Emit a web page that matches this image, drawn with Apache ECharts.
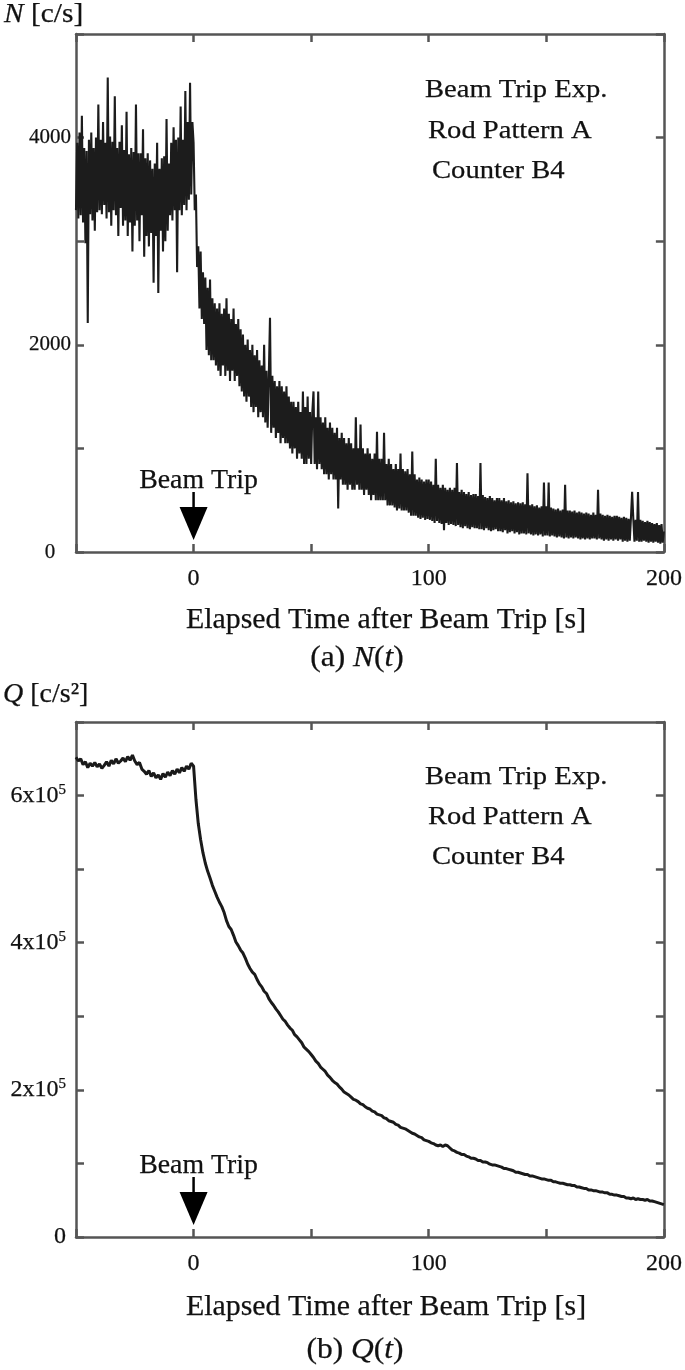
<!DOCTYPE html>
<html><head><meta charset="utf-8">
<script src="https://cdn.jsdelivr.net/npm/echarts@6/dist/echarts.min.js"></script>
<style>html,body{margin:0;padding:0;background:#fff}#c{width:685px;height:1370px}</style>
</head><body><div id="c"></div><script>
// ---- data ----
const timeMin = -50, timeMax = 200;
// N(t) [c/s], sampled every 0.5 s from t = -50 s
const nStart = -50, nStep = 0.5;
const nValues = [
3300,3950,3220,4050,3250,4210,3180,3900,2980,3870,2210,3980,3260,4050,3200,3900,3100,4000,3280,4320,
3300,3980,3260,4150,3350,3950,3220,4580,3280,4010,3150,3960,3300,4400,3250,3900,3050,3960,3320,4120,
3150,3880,3200,4250,3050,3840,3180,3900,2900,3860,3150,4320,3200,3850,3000,3850,3250,4080,2850,3800,
3050,3850,2950,3780,3080,3700,2600,3750,3050,3950,2500,3700,3100,3800,2900,3820,3000,4180,3100,3750,
3250,3950,3200,4100,3300,3980,2700,4000,3300,4300,3250,3980,3350,4450,3300,4150,3400,4530,3450,4150,
3950,3300,3450,2750,2950,2350,2900,2250,2700,2200,2650,1950,2550,1900,2630,1850,2450,1850,2400,1800,
2350,1750,2400,1700,2300,1800,2350,1700,2450,1750,2300,1650,2250,1750,2350,1650,2200,1700,2250,1600,
2150,1550,2100,1500,2000,1450,2050,1500,1950,1400,2000,1350,1900,1400,1950,1300,1850,1350,1800,1300,
2000,1250,1750,1200,1700,2260,1150,1700,1200,1650,1100,1600,1150,1650,1050,1600,1100,1550,1050,1600,
1050,1500,1000,1450,950,1450,1000,1400,900,1450,950,1350,900,1550,850,1400,850,1500,900,1350,
850,1350,1550,850,1300,800,1550,850,1300,800,1250,750,1300,750,1200,700,1250,750,1200,700,
1150,700,1200,420,1100,700,1150,650,1100,650,1050,600,1100,650,1050,600,1000,600,1300,650,
1000,600,1230,600,1000,550,950,600,1000,550,950,500,900,550,950,500,1160,500,900,500,
900,500,1150,500,850,450,900,450,850,450,800,430,850,400,800,420,950,400,800,400,
780,400,800,380,750,350,970,350,750,350,700,330,720,320,700,330,680,310,700,320,
700,310,680,300,650,280,900,300,650,280,620,270,650,210,620,280,600,260,620,270,
600,260,620,250,860,260,580,240,600,230,580,250,560,230,580,220,550,240,560,230,
560,230,540,220,860,220,550,210,530,230,520,210,540,200,520,210,500,220,520,200,
520,200,500,190,520,210,490,180,500,190,480,200,490,180,470,190,480,170,470,180,
480,180,460,170,760,180,450,170,460,160,440,170,450,160,430,170,440,150,670,160,
440,160,670,150,430,160,420,150,410,140,420,150,400,140,410,130,650,140,400,130,
400,140,390,130,400,140,380,130,390,120,380,130,370,120,380,130,370,120,360,130,
380,130,360,120,600,130,370,120,360,110,350,120,360,110,350,120,340,110,350,120,
350,110,340,120,330,100,340,110,330,100,320,110,330,580,320,100,310,110,580,100,
310,100,300,110,290,100,300,90,290,100,280,90,270,100,280,90,260,80,270,90,
200
];
// Q(t) in units of 10^5 c/s^2, sampled every 1 s from t = -50 s
const qStart = -50, qStep = 1;
const qValues = [
6.52,6.47,6.50,6.42,6.46,6.38,6.44,6.40,6.45,6.39,
6.43,6.37,6.41,6.46,6.40,6.48,6.43,6.50,6.44,6.47,
6.51,6.46,6.53,6.48,6.55,6.47,6.42,6.45,6.36,6.33,
6.29,6.34,6.26,6.31,6.24,6.28,6.22,6.30,6.25,6.32,
6.27,6.34,6.29,6.36,6.31,6.38,6.33,6.40,6.36,6.44,
6.40,5.95,5.62,5.40,5.22,5.08,4.97,4.88,4.78,4.70,
4.62,4.55,4.49,4.41,4.30,4.22,4.18,4.10,4.01,3.96,
3.90,3.86,3.79,3.71,3.65,3.60,3.57,3.50,3.44,3.40,
3.34,3.31,3.24,3.19,3.15,3.10,3.06,3.01,2.96,2.93,
2.88,2.84,2.81,2.75,2.72,2.68,2.64,2.58,2.55,2.52,
2.48,2.44,2.39,2.36,2.31,2.28,2.25,2.20,2.17,2.13,
2.10,2.08,2.04,2.01,1.97,1.95,1.93,1.90,1.87,1.86,
1.84,1.81,1.80,1.77,1.75,1.74,1.71,1.70,1.67,1.66,
1.65,1.62,1.61,1.58,1.57,1.56,1.53,1.52,1.49,1.48,
1.47,1.45,1.43,1.41,1.40,1.38,1.36,1.35,1.32,1.31,
1.30,1.28,1.27,1.25,1.24,1.25,1.23,1.25,1.24,1.21,
1.18,1.17,1.15,1.14,1.12,1.12,1.10,1.09,1.07,1.07,
1.06,1.04,1.04,1.02,1.02,1.01,0.99,0.98,0.98,0.97,
0.96,0.95,0.93,0.93,0.92,0.91,0.90,0.88,0.88,0.87,
0.86,0.85,0.85,0.83,0.83,0.82,0.81,0.80,0.79,0.79,
0.78,0.77,0.77,0.75,0.75,0.74,0.73,0.73,0.72,0.71,
0.71,0.70,0.70,0.68,0.68,0.67,0.66,0.66,0.64,0.64,
0.63,0.63,0.62,0.61,0.61,0.60,0.60,0.58,0.58,0.57,
0.57,0.56,0.55,0.55,0.53,0.53,0.52,0.53,0.51,0.52,
0.51,0.51,0.50,0.51,0.49,0.49,0.48,0.47,0.46,0.45,
0.44
];
const xLabelTicks = [0, 100, 200];
const nLabelTicks = [0, 2000, 4000];
const qLabelTicks = [0, 2, 4, 6];
const texts = {
  nAxis: '{i|N} [c/s]',
  qAxis: '{i|Q} [c/s²]',
  xName: 'Elapsed Time after Beam Trip [s]',
  capA: '(a) {i|N}({i|t})',
  capB: '(b) {i|Q}({i|t})',
  info: ['Beam Trip Exp.', 'Rod Pattern A', 'Counter B4'],
  trip: 'Beam Trip'
};

// ---- chart ----
const FONT = '"Liberation Serif", "Times New Roman", serif';
const AX = '#555', TXT = '#111';
const chart = echarts.init(document.getElementById('c'), null, {renderer: 'canvas'});

const grids = [
  {left: 76, top: 34, width: 589, height: 518, show: false},
  {left: 76, top: 722, width: 589, height: 515, show: false}
];
function xAxes(g) {
  const base = {
    gridIndex: g, type: 'value', min: timeMin, max: timeMax, interval: 50,
    axisLine: {show: true, onZero: false, lineStyle: {color: AX, width: 2.5}},
    axisTick: {show: true, inside: true, length: 8, lineStyle: {color: AX, width: 2.5}},
    splitLine: {show: false}
  };
  return [
    Object.assign({}, base, {position: 'bottom', axisLabel: {show: true, margin: 15, fontSize: 24, fontFamily: FONT, color: TXT,
      textBorderColor: TXT, textBorderWidth: 0.25,
      formatter: v => xLabelTicks.includes(v) ? String(v) : ''}}),
    Object.assign({}, base, {position: 'top', axisLabel: {show: false}})
  ];
}
function yAxes(g, max, interval, labelOpt) {
  const base = {
    gridIndex: g, type: 'value', min: 0, max: max, interval: interval,
    axisLine: {show: true, onZero: false, lineStyle: {color: AX, width: 2.5}},
    axisTick: {show: true, inside: true, length: 8, lineStyle: {color: AX, width: 2.5}},
    splitLine: {show: false}
  };
  return [
    Object.assign({}, base, {position: 'left', axisLabel: labelOpt}),
    Object.assign({}, base, {position: 'right', axisLabel: {show: false}})
  ];
}
const nLabel = {show: true, fontSize: 21, fontFamily: FONT, color: TXT, align: 'center', margin: 26,
  textBorderColor: TXT, textBorderWidth: 0.25,
  formatter: v => nLabelTicks.includes(v) ? String(v) : ''};
const qLabel = {show: true, fontSize: 24, fontFamily: FONT, color: TXT, align: 'right', margin: 10,
  textBorderColor: TXT, textBorderWidth: 0.25,
  formatter: v => qLabelTicks.includes(v) ? (v === 0 ? '0' : v + 'x10{sup|5}') : '',
  rich: {sup: {fontSize: 15, fontFamily: FONT, color: TXT, verticalAlign: 'top', padding: [0, 0, 12, 0]}}};

const nData = nValues.map((v, i) => [nStart + i * nStep, v]);
const qData = qValues.map((v, i) => [qStart + i * qStep, v]);

chart.setOption({
  animation: false,
  backgroundColor: '#fff',
  grid: grids,
  xAxis: [...xAxes(0), ...xAxes(1)],
  yAxis: [...yAxes(0, 5000, 1000, nLabel), ...yAxes(1, 7, 1, qLabel)],
  series: [
    {type: 'line', xAxisIndex: 0, yAxisIndex: 0, data: nData, showSymbol: false, symbol: 'none',
      lineStyle: {color: '#1c1c1c', width: 2.1}, clip: true, z: 1},
    {type: 'line', xAxisIndex: 2, yAxisIndex: 2, data: qData, showSymbol: false, symbol: 'none',
      lineStyle: {color: '#1a1a1a', width: 3}, clip: true, z: 1}
  ]
});

// ---- annotations ----
const italic = {i: {fontStyle: 'italic'}};
function label(x, y, text, size, align, sx, rich) {
  const r = rich ? Object.fromEntries(Object.entries(rich).map(([k, s]) =>
    [k, Object.assign({fontFamily: FONT, fill: TXT, stroke: TXT, lineWidth: 0.25}, s, {fontSize: size})])) : undefined;
  return {type: 'text', x: x, y: y, z: 10, scaleX: sx || 1,
    style: {text: text, font: size + 'px ' + FONT, fill: TXT, stroke: TXT, lineWidth: 0.25,
      align: align || 'left', verticalAlign: 'middle', rich: r}};
}
const g = [];
// axis titles
g.push(label(4, 15, texts.nAxis, 28, 'left', 1.05, italic));
g.push(label(3, 695, texts.qAxis, 28, 'left', 1.0, italic));
const xa0 = chart.convertToPixel({xAxisIndex: 0}, 0);
const ya0 = chart.convertToPixel({yAxisIndex: 0}, 0);
const yb0 = chart.convertToPixel({yAxisIndex: 2}, 0);
g.push(label(386, 620, texts.xName, 29, 'center', 1.03));
g.push(label(386, 1307, texts.xName, 29, 'center', 1.03));
g.push(label(357, 658, texts.capA, 30, 'center', 1.05, italic));
g.push(label(355, 1350, texts.capB, 30, 'center', 1.05, italic));
// info blocks
const infoA = [[425, 90], [428, 131], [432, 171]];
const infoB = [[425, 777], [428, 817], [432, 857]];
texts.info.forEach((t, i) => {
  g.push(label(infoA[i][0], infoA[i][1], t, 26, 'left', 1.1));
  g.push(label(infoB[i][0], infoB[i][1], t, 26, 'left', 1.1));
});
// beam trip arrows
function arrow(axisY) {
  const tip = axisY - 12;
  g.push(label(xa0 + 5, tip - 59, texts.trip, 27, 'center', 1.03));
  g.push({type: 'line', z: 10, shape: {x1: xa0, y1: tip - 48, x2: xa0, y2: tip - 30}, style: {stroke: '#000', lineWidth: 2.5}});
  g.push({type: 'polygon', z: 10, shape: {points: [[xa0 - 14, tip - 33], [xa0 + 14, tip - 33], [xa0, tip]]}, style: {fill: '#000'}});
}
arrow(ya0);
arrow(yb0);
chart.setOption({graphic: g});
</script></body></html>
